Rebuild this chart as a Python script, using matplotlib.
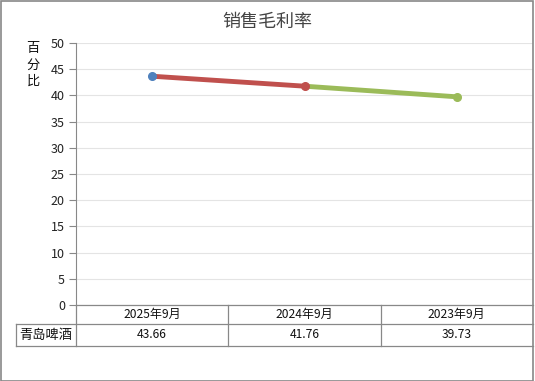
import matplotlib
matplotlib.use("Agg")
import matplotlib.pyplot as plt
from matplotlib.patches import Rectangle

plt.rcParams["font.family"] = ["Noto Sans CJK SC", "DejaVu Sans"]

title = "销售毛利率"
y_label = "百分比"
company = "青岛啤酒"
periods = ["2025年9月", "2024年9月", "2023年9月"]
margins = [43.66, 41.76, 39.73]
y_ticks = [0, 5, 10, 15, 20, 25, 30, 35, 40, 45, 50]

marker_colors = ["#4F81BD", "#C0504D", "#9BBB59"]

W, H = 535, 381
fig = plt.figure(figsize=(W / 100, H / 100), dpi=100)
fig.patches.append(Rectangle((0.5 / W, 0.5 / H), (W - 2.5) / W, (H - 1.5) / H,
                             transform=fig.transFigure, fill=False,
                             edgecolor="#888888", linewidth=1.2))

# plot area in pixels
left, right, top, bottom = 76, 533, 43, 305
ax = fig.add_axes([left / W, 1 - bottom / H, (right - left) / W, (bottom - top) / H])
ax.set_xlim(-0.5, len(periods) - 0.5)
ax.set_ylim(0, 50)
ax.set_yticks(y_ticks)
ax.set_xticks([])
ax.tick_params(axis="y", length=5, color="#888888", labelsize=9, pad=3,
               labelcolor="#222222")
for side in ["top", "right", "bottom"]:
    ax.spines[side].set_visible(False)
ax.spines["left"].set_color("#888888")
ax.grid(axis="y", color="#e4e4e4", linewidth=0.8)
ax.set_axisbelow(True)

xs = list(range(len(periods)))
for i in range(len(xs) - 1):
    ax.plot(xs[i:i + 2], margins[i:i + 2], color=marker_colors[i + 1],
            linewidth=3.5, solid_capstyle="round", zorder=3)
for i in range(len(xs)):
    ax.plot(xs[i], margins[i], "o", color=marker_colors[i], markersize=5.5, zorder=4)

fig.text(0.5, 1 - 22 / H, title, ha="center", va="center", fontsize=13,
         color="#444444")
fig.text(33 / W, 1 - 65 / H, "\n".join(y_label), ha="center", va="center",
         fontsize=9.5, linespacing=1.35, color="#111111")

# data table
row1_top, row1_bot, row2_bot = 305, 324, 346
tbl_left = 16
col_edges = [left + (right - left) * k / len(periods) for k in range(len(periods) + 1)]
lc = "#888888"
lw = 0.9


def hline(y, x0, x1):
    fig.add_artist(plt.Line2D([x0 / W, x1 / W], [1 - y / H, 1 - y / H],
                              color=lc, linewidth=lw))


def vline(x, y0, y1):
    fig.add_artist(plt.Line2D([x / W, x / W], [1 - y0 / H, 1 - y1 / H],
                              color=lc, linewidth=lw))


hline(row1_top, left, right)
hline(row1_bot, tbl_left, right)
hline(row2_bot, tbl_left, right)
vline(tbl_left, row1_bot, row2_bot)
for x in col_edges[:-1]:
    vline(x, row1_top, row2_bot)

for k, p in enumerate(periods):
    cx = (col_edges[k] + col_edges[k + 1]) / 2
    fig.text(cx / W, 1 - (row1_top + row1_bot) / 2 / H, p, ha="center",
             va="center", fontsize=8.7, color="#111111")
    fig.text(cx / W, 1 - (row1_bot + row2_bot) / 2 / H, f"{margins[k]:.2f}",
             ha="center", va="center", fontsize=8.7, color="#111111")
fig.text((tbl_left + left) / 2 / W, 1 - (row1_bot + row2_bot) / 2 / H, company,
         ha="center", va="center", fontsize=9.5, color="#111111")

fig.savefig("out.png", dpi=100)
